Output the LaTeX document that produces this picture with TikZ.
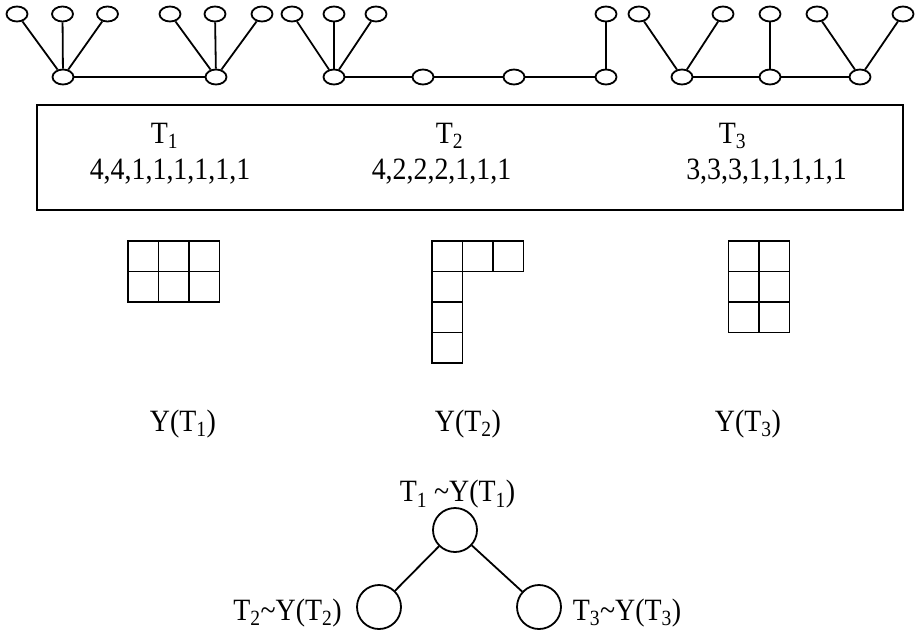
\documentclass[tikz,border=0pt]{standalone}
\usepackage{fontspec}
\setmainfont[FakeStretch=0.9]{Liberation Serif}
\usetikzlibrary{shapes.geometric}
\begin{document}
\begin{tikzpicture}[x=1pt,y=-1pt,
  vert/.style={draw, ellipse, line width=1.8pt, minimum width=21pt, minimum height=15pt, inner sep=0pt},
  edge/.style={line width=1.8pt},
  bignode/.style={draw, circle, line width=1.8pt, minimum size=44pt, inner sep=0pt},
  lbl/.style={font=\fontsize{31}{36}\selectfont, inner sep=0pt, anchor=base},
  cell/.style={line width=1.8pt}]
\useasboundingbox (0,0) rectangle (918,630);

% tree T1
\node[vert] (a1) at (17,14) {};
\node[vert] (a2) at (62.5,14) {};
\node[vert] (a3) at (107.5,14) {};
\node[vert] (a4) at (170,14) {};
\node[vert] (a5) at (215,14) {};
\node[vert] (a6) at (262,14) {};
\node[vert] (h1) at (63,77) {};
\node[vert] (h2) at (216,77) {};
\foreach \v in {a1,a2,a3} \draw[edge] (\v) -- (h1);
\foreach \v in {a4,a5,a6} \draw[edge] (\v) -- (h2);
\draw[edge] (h1) -- (h2);

% tree T2
\node[vert] (b1) at (292,14) {};
\node[vert] (b2) at (334,14) {};
\node[vert] (b3) at (376,14) {};
\node[vert] (b4) at (606,14) {};
\node[vert] (g1) at (334,77) {};
\node[vert] (g2) at (423,77) {};
\node[vert] (g3) at (514,77) {};
\node[vert] (g4) at (606,77) {};
\foreach \v in {b1,b2,b3} \draw[edge] (\v) -- (g1);
\draw[edge] (g1) -- (g2) -- (g3) -- (g4);
\draw[edge] (b4) -- (g4);

% tree T3
\node[vert] (c1) at (639,14) {};
\node[vert] (c2) at (723,14) {};
\node[vert] (c3) at (770,14) {};
\node[vert] (c4) at (817,14) {};
\node[vert] (c5) at (903,14) {};
\node[vert] (k1) at (682,77) {};
\node[vert] (k2) at (770,77) {};
\node[vert] (k3) at (860,77) {};
\foreach \v in {c1,c2} \draw[edge] (\v) -- (k1);
\draw[edge] (c3) -- (k2);
\foreach \v in {c4,c5} \draw[edge] (\v) -- (k3);
\draw[edge] (k1) -- (k2) -- (k3);

% degree sequences
\draw[line width=1.6pt] (37,105) rectangle (903,210);
\node[lbl] (t1) at (164.5,143) {T\textsubscript{1}};
\node[lbl] (p1) at (170,179) {4,4,1,1,1,1,1,1};
\node[lbl] (t2) at (449.5,143) {T\textsubscript{2}};
\node[lbl] (p2) at (441.5,179) {4,2,2,2,1,1,1};
\node[lbl] (t3) at (732.5,143) {T\textsubscript{3}};
\node[lbl] (p3) at (766.5,179) {3,3,3,1,1,1,1,1};

% Young diagrams
\def\cs{30.5}
\foreach \c/\r in {0/0,1/0,2/0,0/1,1/1,2/1}
  \draw[cell] (128+\c*\cs,241+\r*\cs) rectangle ++(\cs,\cs);
\foreach \c/\r in {0/0,1/0,2/0,0/1,0/2,0/3}
  \draw[cell] (432+\c*\cs,241+\r*\cs) rectangle ++(\cs,\cs);
\foreach \c/\r in {0/0,1/0,0/1,1/1,0/2,1/2}
  \draw[cell] (728.5+\c*\cs,241+\r*\cs) rectangle ++(\cs,\cs);

\node[lbl] (y1) at (183,431) {Y(T\textsubscript{1})};
\node[lbl] (y2) at (468,431) {Y(T\textsubscript{2})};
\node[lbl] (y3) at (748,431) {Y(T\textsubscript{3})};

% classification tree
\node[bignode] (r0) at (455,530) {};
\node[bignode] (r1) at (379,607) {};
\node[bignode] (r2) at (539,607) {};
\draw[edge] (r0) -- (r1);
\draw[edge] (r0) -- (r2);
\node[lbl] (l0) at (457.5,501.5) {T\textsubscript{1} \textasciitilde Y(T\textsubscript{1})};
\node[lbl] (l1) at (287.5,620) {T\textsubscript{2}\textasciitilde Y(T\textsubscript{2})};
\node[lbl] (l2) at (627,620) {T\textsubscript{3}\textasciitilde Y(T\textsubscript{3})};
\end{tikzpicture}
\end{document}
